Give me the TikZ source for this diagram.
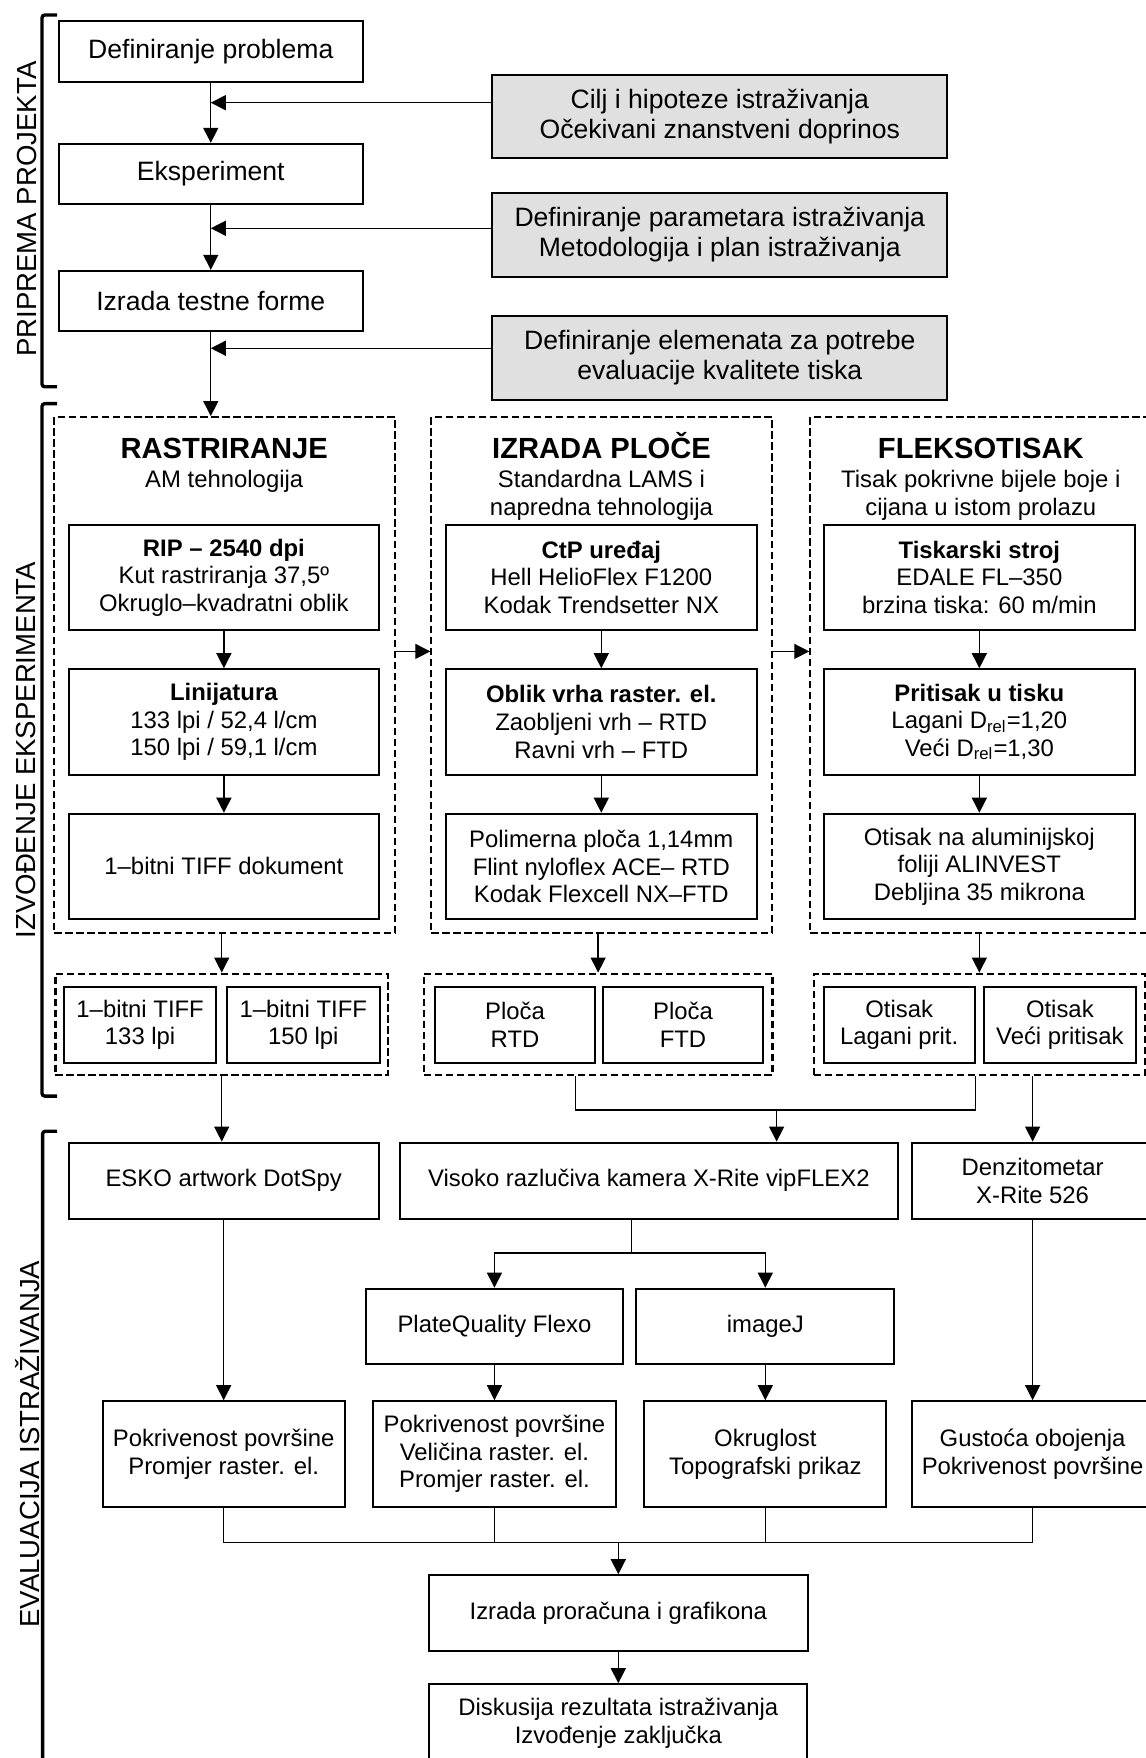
\documentclass[tikz,border=0pt]{standalone}
\usepackage{fontspec}
\setmainfont{Liberation Sans}
\usetikzlibrary{arrows.meta}
\newcommand{\topsize}{\fontsize{11.85}{13.35}\selectfont}
\newcommand{\midsize}{\fontsize{10.65}{12.3}\selectfont}
\newcommand{\headsize}{\fontsize{13}{14.5}\selectfont\bfseries}
\newcommand{\sidesize}{\fontsize{12.3}{14}\selectfont}
\begin{document}
\begin{tikzpicture}[x=0.5pt,y=-0.5pt,
  box/.style={draw,line width=0.9pt,align=center,inner sep=0pt,font=\midsize},
  topbox/.style={box,font=\topsize,minimum width=135.5pt,minimum height=27pt},
  graybox/.style={topbox,fill=black!12,minimum width=203pt,minimum height=37.25pt},
  dashbox/.style={draw,line width=0.9pt,dash pattern=on 3.3pt off 1.6pt,inner sep=0pt},
  stagebox/.style={dashbox,minimum width=152pt,minimum height=230pt},
  grpbox/.style={dashbox,minimum height=45.15pt},
  procbox/.style={box,minimum width=138.5pt,minimum height=47pt},
  outbox/.style={box,minimum height=33.75pt},
  evalbox/.style={box,minimum height=34pt},
  resbox/.style={box,minimum width=108pt,minimum height=47.15pt},
  headtxt/.style={font=\headsize,anchor=base,inner sep=0pt},
  subtxt/.style={font=\midsize,anchor=base,inner sep=0pt},
  sidelbl/.style={font=\sidesize,rotate=90,inner sep=0pt},
  link/.style={line width=0.6pt},
  arr/.style={link,-{Triangle[length=6.7pt,width=6.7pt]}},
  brk/.style={line width=1.5pt,rounded corners=1.2pt}]
\useasboundingbox (0,0) rectangle (1022,1568);
\clip (0,0) rectangle (1022,1568);

% priprema projekta
\node[topbox] (prob) at (188,46) {Definiranje problema};
\node[topbox] (eksp) at (188,155.3) {Eksperiment};
\node[topbox] (forma) at (188,268.6) {Izrada testne forme};
\node[graybox] (cilj) at (642,104) {Cilj i hipoteze istraživanja\\Očekivani znanstveni doprinos};
\node[graybox] (param) at (642,209.5) {Definiranje parametara istraživanja\\Metodologija i plan istraživanja};
\node[graybox] (elem) at (642,319.2) {Definiranje elemenata za potrebe\\evaluacije kvalitete tiska};
\coordinate (in1) at ([yshift=6.2pt]cilj.west);
\coordinate (in2) at ([yshift=2.95pt]param.west);
\coordinate (in3) at ([yshift=4.3pt]elem.west);
\draw[arr] (prob) -- (eksp);
\draw[arr] (eksp) -- (forma);
\draw[arr] (in1) -- (in1 -| prob);
\draw[arr] (in2) -- (in2 -| prob);
\draw[arr] (in3) -- (in3 -| prob);

% izvodjenje eksperimenta
\node[stagebox] (rastA) at (200.35,602) {};
\node[stagebox] (plocaB) at (536.7,602) {};
\node[stagebox] (fleksC) at (874.7,602) {};
\draw[arr] (forma.south) -- (forma.south |- rastA.north);
\node[headtxt] (hdA) at (200,409) {RASTRIRANJE};
\node[subtxt] (subA) at (200,434.6) {AM tehnologija};
\node[headtxt] (hdB) at (536.5,409) {IZRADA PLOČE};
\node[subtxt] (subB1) at (536.5,434.6) {Standardna LAMS i};
\node[subtxt] (subB2) at (536.5,459.6) {napredna tehnologija};
\node[headtxt] (hdC) at (874.8,409) {FLEKSOTISAK};
\node[subtxt] (subC1) at (874.8,434.6) {Tisak pokrivne bijele boje i};
\node[subtxt] (subC2) at (874.8,459.6) {cijana u istom prolazu};

\node[procbox] (rip) at (199.7,515) {\textbf{RIP – 2540 dpi}\\Kut rastriranja 37,5º\\Okruglo–kvadratni oblik};
\node[procbox] (lin) at (199.7,643.9) {\textbf{Linijatura}\\133 lpi / 52,4 l/cm\\150 lpi / 59,1 l/cm};
\node[procbox] (tiffdoc) at (199.7,772.8) {1–bitni TIFF dokument};
\node[procbox] (ctp) at (536.3,515) {\textbf{CtP uređaj}\\Hell HelioFlex F1200\\Kodak Trendsetter NX};
\node[procbox] (oblik) at (536.3,643.9) {\textbf{Oblik vrha raster. el.}\\Zaobljeni vrh – RTD\\Ravni vrh – FTD};
\node[procbox] (polimer) at (536.3,772.8) {Polimerna ploča 1,14mm\\Flint nyloflex ACE– RTD\\Kodak Flexcell NX–FTD};
\node[procbox] (stroj) at (873.5,515) {\textbf{Tiskarski stroj}\\EDALE FL–350\\brzina tiska: 60 m/min};
\node[procbox] (pritisak) at (873.5,643.9) {\textbf{Pritisak u tisku}\\Lagani D\textsubscript{rel}=1,20\\Veći D\textsubscript{rel}=1,30};
\node[procbox] (otisak) at (873.5,772.8) {Otisak na aluminijskoj\\foliji ALINVEST\\Debljina 35 mikrona};
\draw[arr] (rip) -- (lin);
\draw[arr] (lin) -- (tiffdoc);
\draw[arr] (ctp) -- (oblik);
\draw[arr] (oblik) -- (polimer);
\draw[arr] (stroj) -- (pritisak);
\draw[arr] (pritisak) -- (otisak);
\draw[arr] ([yshift=10.5pt]rastA.east) -- ([yshift=10.5pt]plocaB.west);
\draw[arr] ([yshift=10.5pt]plocaB.east) -- ([yshift=10.5pt]fleksC.west);

\node[grpbox,minimum width=148.25pt] (grpA) at (197.75,913.5) {};
\node[grpbox,minimum width=155.5pt] (grpB) at (533.5,913.5) {};
\node[grpbox,minimum width=147.5pt] (grpC) at (873.5,913.5) {};
\node[outbox,minimum width=67.75pt] (tiff133) at (125,914) {1–bitni TIFF\\133 lpi};
\node[outbox,minimum width=68pt] (tiff150) at (270.5,914) {1–bitni TIFF\\150 lpi};
\node[outbox,minimum width=71pt] (plRTD) at (459.4,914) {Ploča\\RTD};
\node[outbox,minimum width=71pt] (plFTD) at (609.2,914) {Ploča\\FTD};
\node[outbox,minimum width=67.5pt] (otLag) at (802,914) {Otisak\\Lagani prit.};
\node[outbox,minimum width=67.5pt] (otVec) at (945.3,914) {Otisak\\Veći pritisak};
\draw[arr] (rastA.south -| grpA.north) -- (grpA.north);
\draw[arr] (plocaB.south -| grpB.north) -- (grpB.north);
\draw[arr] (fleksC.south -| grpC.north) -- (grpC.north);

% evaluacija istrazivanja
\node[evalbox,minimum width=138.25pt] (esko) at (199.5,1053.1) {ESKO artwork DotSpy};
\node[evalbox,minimum width=222.35pt] (kamera) at (578.7,1053.1) {Visoko razlučiva kamera X-Rite vipFLEX2};
\node[evalbox,minimum width=108pt] (denz) at (921,1053.1) {Denzitometar\\X-Rite 526};
\node[evalbox,minimum width=114.85pt,minimum height=33.7pt] (pq) at (441,1183.1) {PlateQuality Flexo};
\node[evalbox,minimum width=115pt,minimum height=33.7pt] (imagej) at (682.6,1183.1) {imageJ};
\node[resbox] (pok1) at (199.5,1296.9) {Pokrivenost površine\\Promjer raster. el.};
\node[resbox] (pok2) at (441,1296.9) {Pokrivenost površine\\Veličina raster. el.\\Promjer raster. el.};
\node[resbox] (okrug) at (682.6,1296.9) {Okruglost\\Topografski prikaz};
\node[resbox] (gust) at (921,1296.9) {Gustoća obojenja\\Pokrivenost površine};
\node[evalbox,minimum width=169pt,minimum height=33.7pt] (izrada) at (551.5,1438.7) {Izrada proračuna i grafikona};
\node[evalbox,minimum width=168.5pt,minimum height=34.8pt] (disk) at (551.5,1537) {Diskusija rezultata istraživanja\\Izvođenje zaključka};

\coordinate (jB) at (513.4,990);
\coordinate (jC) at (870,990);
\coordinate (jK) at (692.7,990);
\draw[arr] (grpA.south) -- (grpA.south |- esko.north);
\draw[link] (grpB.south -| jB) -- (jB) -- (jC) -- (jC |- grpC.south);
\draw[arr] (jK) -- (jK |- kamera.north);
\draw[arr] (grpC.south -| denz.north) -- (denz.north);

\coordinate (split) at (563,1117.6);
\draw[link] (kamera.south -| split) -- (split);
\draw[arr] (split) -| (pq.north);
\draw[arr] (split) -| (imagej.north);
\draw[arr] (esko) -- (pok1);
\draw[arr] (pq) -- (pok2);
\draw[arr] (imagej) -- (okrug);
\draw[arr] (denz) -- (gust);

\coordinate (merge) at (551.5,1375.8);
\draw[link] (pok1.south) -- (pok1.south |- merge) -- (gust.south |- merge) -- (gust.south);
\draw[link] (pok2.south) -- (pok2.south |- merge);
\draw[link] (okrug.south) -- (okrug.south |- merge);
\draw[arr] (merge) -- (izrada.north);
\draw[arr] (izrada) -- (disk);

% zagrade i natpisi
\draw[brk] (51,13.4) -- (37.5,13.4) -- (37.5,345) -- (51,345);
\draw[brk] (51,360) -- (37.5,360) -- (37.5,977.6) -- (51,977.6);
\draw[brk] (51,1009) -- (38,1009) -- (38,1580);
\node[sidelbl] (lblPrip) at (24,186.5) {PRIPREMA PROJEKTA};
\node[sidelbl] (lblIzv) at (23,669) {IZVOĐENJE EKSPERIMENTA};
\node[sidelbl] (lblEval) at (24.5,1288) {EVALUACIJA ISTRAŽIVANJA};
\end{tikzpicture}
\end{document}
